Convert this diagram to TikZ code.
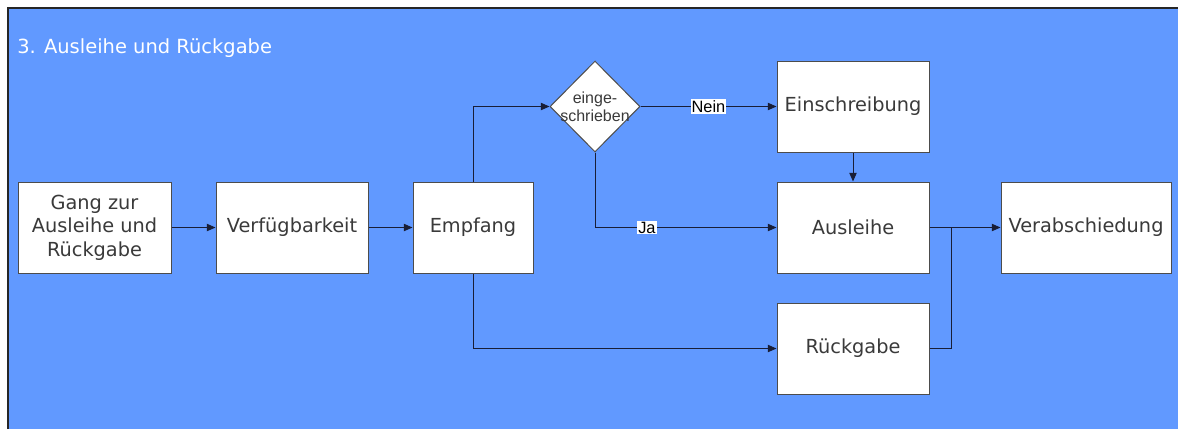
\documentclass[tikz,border=0pt]{standalone}
\usepackage{fontspec}
\setmainfont{DejaVu Sans}
\newfontfamily\labelfont{Liberation Sans}
\usetikzlibrary{arrows.meta,shapes.geometric}
\definecolor{canvas}{RGB}{97,153,255}
\definecolor{boxtext}{RGB}{58,58,58}
\definecolor{wire}{RGB}{25,30,55}
\begin{document}
\begin{tikzpicture}[x=0.75pt,y=-0.75pt,
  stepbox/.style={draw=black!70, fill=white, line width=0.75pt, inner sep=0pt,
    minimum width=114pt, minimum height=68.25pt, text=boxtext, align=center,
    font=\fontsize{14.5}{17.6}\selectfont},
  flow/.style={draw=wire, line width=0.75pt, -{Triangle[length=6.5pt,width=5.5pt]}},
  plain/.style={draw=wire, line width=0.75pt},
  tag/.style={fill=white, inner sep=0.8pt, text=black, font=\labelfont\fontsize{12.3}{14}\selectfont}]

  \useasboundingbox (0,0) rectangle (1178,429);
  % canvas with its frame on the top and left edges
  \fill[canvas] (7.7,8) rectangle (1178,429);
  \draw[black!85, line width=1.5pt] (7.7,429) -- (7.7,8) -- (1178,8);

  \node[anchor=base west, text=white, font=\fontsize{14.6}{17}\selectfont, inner sep=0pt]
    (title) at (17,53) {3. Ausleihe und Rückgabe};

  % process steps
  \node[stepbox, minimum width=114.75pt] (gang) at (94.5,227.5) {Gang zur\\Ausleihe und\\Rückgabe};
  \node[stepbox] (verf) at (292,227.5) {Verfügbarkeit};
  \node[stepbox, minimum width=90pt] (empf) at (473,227.5) {Empfang};
  \node[stepbox] (ein) at (853,106.5) {Einschreibung};
  \node[stepbox] (aus) at (853,227.5) {Ausleihe};
  \node[stepbox] (rueck) at (853,348.5) {Rückgabe};
  \node[stepbox, minimum width=127.5pt] (verab) at (1086,227.5) {Verabschiedung};

  % decision
  \node[diamond, draw=black!70, fill=white, line width=0.75pt, inner sep=0pt,
    minimum width=67.5pt, minimum height=68.25pt] (dia) at (595,106.5) {};
  \node[align=center, text=boxtext, inner sep=0pt,
    font=\labelfont\fontsize{12}{13.5}\selectfont] (diatext) at (dia.center) {einge-\\schrieben};

  \coordinate (join) at (951,227.5);

  % connectors
  \draw[flow] (gang) -- (verf);
  \draw[flow] (verf) -- (empf);
  \draw[flow] (empf.north) |- (dia.west);
  \draw[flow] (dia.east) -- node[tag] {Nein} (ein.west);
  \draw[flow] (dia.south) |- node[tag, pos=0.643] {Ja} (aus.west);
  \draw[flow] (ein) -- (aus);
  \draw[flow] (empf.south) |- (rueck.west);
  \draw[flow] (aus) -- (verab);
  \draw[plain] (rueck.east) -| (join);
\end{tikzpicture}
\end{document}
